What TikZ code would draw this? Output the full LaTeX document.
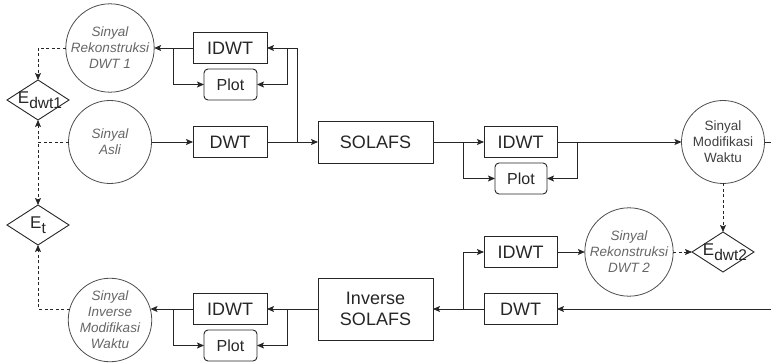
\documentclass[tikz,border=0pt]{standalone}
\usepackage{fontspec}
\setmainfont{Liberation Sans}
\usetikzlibrary{shapes.geometric,arrows.meta}

\begin{document}
\begin{tikzpicture}[x=1pt,y=-1pt,
  every node/.style={inner sep=0pt, outer sep=0pt},
  blok/.style={draw=black!85, line width=0.9pt, minimum width=74pt, minimum height=31pt,
    font=\fontsize{18}{21}\selectfont, text=black!85},
  plotbox/.style={draw=black!85, line width=0.9pt, rounded corners=4pt, minimum width=53pt,
    minimum height=31pt, font=\fontsize{16}{19}\selectfont, text=black!85},
  bigblok/.style={blok, minimum width=115pt, align=center},
  sig/.style={circle, draw=black!70, line width=0.8pt, minimum size=83pt, align=center,
    font=\fontsize{13.5}{16}\selectfont\itshape, text=black!60},
  sigplain/.style={sig, font=\fontsize{13.5}{16}\selectfont, text=black!75},
  errbox/.style={diamond, draw=black!85, line width=0.9pt, minimum width=62pt, minimum height=40pt},
  errtext/.style={font=\fontsize{17}{20}\selectfont, text=black!85},
  arr/.style={-{Stealth[length=7pt,width=6pt,inset=1.5pt]}, line width=0.9pt, draw=black!85},
  line/.style={line width=0.9pt, draw=black!85},
  darr/.style={arr, dashed, dash pattern=on 3pt off 2.5pt, line width=0.8pt}
]
\useasboundingbox (0,0) rectangle (771,363);

% signals
\node[sig] (rek1) at (110,48) {Sinyal\\Rekonstruksi\\DWT 1};
\node[sig] (asli) at (110,142) {Sinyal\\Asli};
\node[sig] (inv) at (110,320) {Sinyal\\Inverse\\Modifikasi\\Waktu};
\node[sigplain] (mod) at (723,142) {Sinyal\\Modifikasi\\Waktu};
\node[sig] (rek2) at (629,252) {Sinyal\\Rekonstruksi\\DWT 2};

% error measures
\newcommand{\errsub}[1]{E\raisebox{-4.5pt}{\fontsize{15.5}{18}\selectfont #1}}
\node[errbox] (e1) at (38,100) {};
\node[errtext] (e1t) at (40,100) {\errsub{dwt1}};
\node[errbox] (et) at (38,225) {};
\node[errtext] (ett) at (38,225) {\errsub{t}};
\node[errbox] (e2) at (723,252) {};
\node[errtext] (e2t) at (725,252) {\errsub{dwt2}};

% processing blocks
\node[blok] (idwt1) at (230,48) {IDWT};
\node[plotbox] (plot1) at (230.5,84.5) {Plot};
\node[blok] (dwt1) at (230,142) {DWT};
\node[bigblok, minimum height=42pt] (solafs) at (375.5,142) {SOLAFS};
\node[blok, minimum width=73pt] (idwt2) at (520.5,142) {IDWT};
\node[plotbox, minimum width=52pt] (plot2) at (521,178.5) {Plot};
\node[blok, minimum width=73pt] (idwt3) at (520.5,252) {IDWT};
\node[blok, minimum width=73pt] (dwt3) at (520.5,309) {DWT};
\node[bigblok, minimum height=62pt] (isol) at (375.5,309) {Inverse\\SOLAFS};
\node[blok] (idwt4) at (230,309) {IDWT};
\node[plotbox] (plot4) at (230.5,345.5) {Plot};

% junctions and edge points
\coordinate (j1) at (297,142);
\coordinate (j1b) at (287,48);
\coordinate (j1c) at (173,48);
\coordinate (j2) at (463,142);
\coordinate (j2b) at (577,142);
\coordinate (j3) at (463,309);
\coordinate (j4) at (287,309);
\coordinate (j4b) at (173,309);
\coordinate (outr) at (771,142);
\coordinate (inr) at (771,309);
% points on the lower-left circle at the height of the return line
\coordinate (inve) at (150.5,309);
\coordinate (invw) at (69.5,309);

% forward path
\draw[arr] (asli.east) -- (dwt1.west);
\draw[arr] (dwt1.east) -- (solafs.west);
\draw[arr] (j1) |- (idwt1.east);
\draw[arr] (j1b) |- (plot1.east);
\draw[arr] (idwt1.west) -- (rek1.east);
\draw[arr] (j1c) |- (plot1.west);
\draw[arr] (solafs.east) -- (idwt2.west);
\draw[arr] (j2) |- (plot2.west);
\draw[arr] (idwt2.east) -- (mod.west);
\draw[arr] (j2b) |- (plot2.east);
\draw[line] (mod.east) -- (outr);

% return path
\draw[arr] (inr) -- (dwt3.east);
\draw[arr] (dwt3.west) -- (isol.east);
\draw[arr] (j3) |- (idwt3.west);
\draw[arr] (idwt3.east) -- (rek2.west);
\draw[arr] (isol.west) -- (idwt4.east);
\draw[arr] (j4) |- (plot4.east);
\draw[arr] (idwt4.west) -- (inve);
\draw[arr] (j4b) |- (plot4.west);

% error comparisons
\draw[darr] (rek1.west) -| (e1.north);
\draw[darr] (asli.west) -| (e1.south);
\draw[darr] (asli.west) -| (et.north);
\draw[darr] (invw) -| (et.south);
\draw[darr] (mod.south) -- (e2.north);
\draw[darr] (rek2.east) -- (e2.west);
\end{tikzpicture}
\end{document}
